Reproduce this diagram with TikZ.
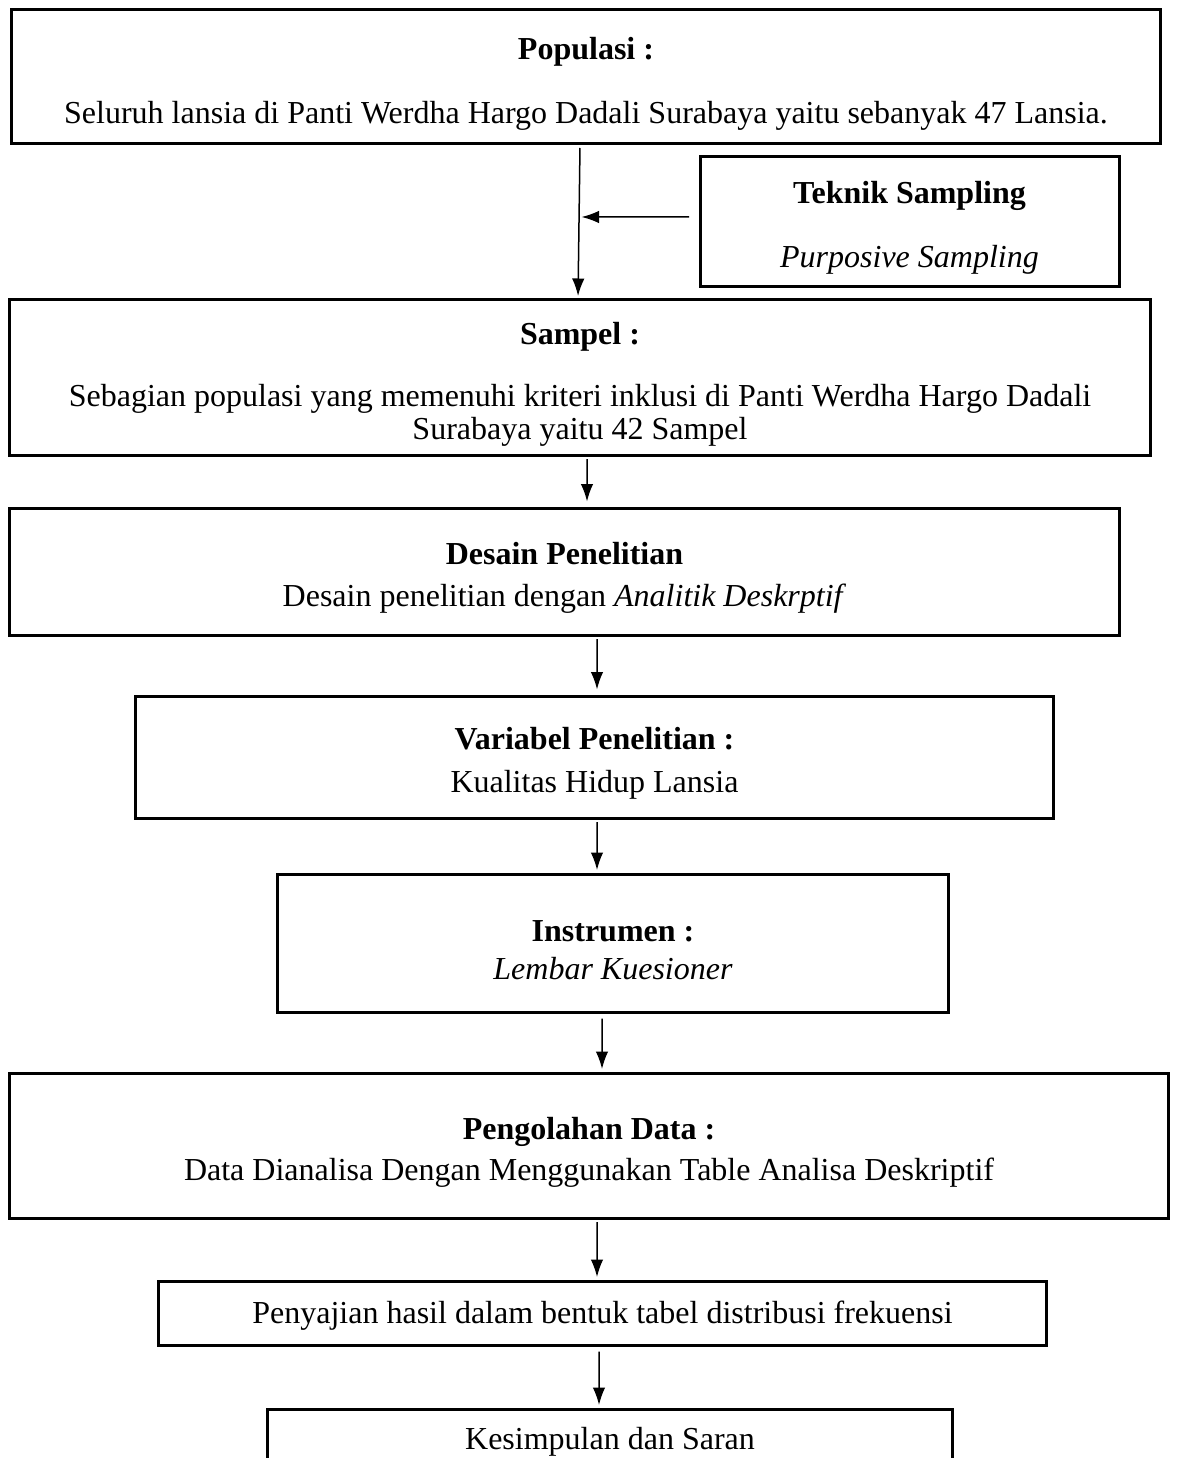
\documentclass[tikz,border=0pt,12pt]{standalone}
\usepackage{fontspec}
\setmainfont{Liberation Serif}
\usetikzlibrary{arrows.meta}

\newcommand{\judul}[1]{\rule{0pt}{14pt}\textbf{#1}}

\tikzstyle{box}=[draw, line width=1.2pt, inner sep=0pt, align=center, font=\fontsize{12.8}{14.9}\selectfont]
\tikzstyle{arrow}=[line width=0.6pt, -{Latex[length=7pt, width=5pt]}, shorten <=1pt, shorten >=1pt]

\begin{document}
\begin{tikzpicture}[x=0.4pt, y=-0.4pt]
      \useasboundingbox (0,0) rectangle (1176,1458);

      \node[box, minimum width=459.2pt, minimum height=53.6pt] (pop) at (586,77)
        {\judul{Populasi :}\\[10.7pt] Seluruh lansia di Panti Werdha Hargo Dadali Surabaya yaitu sebanyak 47 Lansia.};
      \node[box, minimum width=167.6pt, minimum height=51.6pt] (teknik) at (909.5,221.5)
        {\judul{Teknik Sampling}\\[10.7pt] \textit{Purposive Sampling}};
      \node[box, minimum width=456pt, minimum height=62pt] (sampel) at (580,377.5)
        {\judul{Sampel :}\\[9.9pt] Sebagian populasi yang memenuhi kriteri inklusi di Panti Werdha Hargo Dadali\\[-1.7pt] Surabaya yaitu 42 Sampel};
      \node[box, minimum width=443.6pt, minimum height=50.8pt] (desain) at (564.5,571.5)
        {\judul{Desain Penelitian}\\[1.9pt] Desain penelitian dengan \textit{Analitik Deskrptif}};
      \node[box, minimum width=366.8pt, minimum height=48.8pt] (variabel) at (594.5,757)
        {\judul{Variabel Penelitian :}\\[2.3pt] Kualitas Hidup Lansia};
      \node[box, minimum width=268pt, minimum height=55.2pt] (instrumen) at (613,943)
        {\judul{Instrumen :}\\[0.3pt] \textit{Lembar Kuesioner}};
      \node[box, minimum width=463.2pt, minimum height=58pt] (olah) at (589,1145.5)
        {\judul{Pengolahan Data :}\\[1.5pt] Data Dianalisa Dengan Menggunakan Table Analisa Deskriptif};
      \node[box, minimum width=354.8pt, minimum height=25.6pt] (saji) at (602.5,1313)
        {\rule{0pt}{11pt}Penyajian hasil dalam bentuk tabel distribusi frekuensi};
      \node[box, minimum width=273.6pt, minimum height=24.4pt] (simpul) at (610,1439.5)
        {\rule{0pt}{11pt}Kesimpulan dan Saran};

      \coordinate (join) at (579,217);

      \draw[arrow] ([xshift=-2.4pt]pop.south) to ([xshift=-0.8pt]sampel.north);
      \draw[arrow] ([xshift=-2.8pt, yshift=1.8pt]teknik.west) to (join);
      \draw[arrow] ([xshift=2.8pt]sampel.south) to ([xshift=9pt, yshift=1pt]desain.north);
      \draw[arrow] ([xshift=13pt]desain.south) to ([xshift=1pt, yshift=1pt]variabel.north);
      \draw[arrow] ([xshift=1pt]variabel.south) to ([xshift=-6.4pt]instrumen.north);
      \draw[arrow] ([xshift=-4.4pt, yshift=-1pt]instrumen.south) to ([xshift=5.2pt]olah.north);
      \draw[arrow] ([xshift=3.2pt]olah.south) to ([xshift=-2.2pt]saji.north);
      \draw[arrow] ([xshift=-1.4pt, yshift=-1pt]saji.south) to ([xshift=-4.4pt]simpul.north);
    \end{tikzpicture}
\end{document}
